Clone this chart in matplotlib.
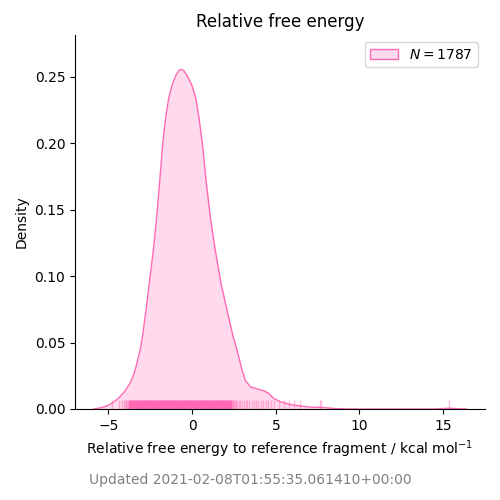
import numpy as np
import matplotlib
matplotlib.use('Agg')
import matplotlib.pyplot as plt
from matplotlib.patches import Patch

### Density curve (kcal/mol, density)
kde_x = [-5.9, -5.5, -5.1, -4.81, -4.55, -4.31, -4.0, -3.71, -3.52, -3.35, -3.11,
         -2.95, -2.81, -2.68, -2.56, -2.44, -2.32, -2.17, -2.04, -1.94, -1.86, -1.78,
         -1.68, -1.56, -1.40, -1.20, -0.96, -0.80, -0.66, -0.50, -0.32, -0.02, 0.22,
         0.38, 0.52, 0.64, 0.74, 0.84, 0.98, 1.1, 1.38, 1.72, 1.95, 2.17, 2.42,
         2.68, 2.85, 2.98, 3.17, 3.47, 3.97, 4.27, 4.57, 4.87, 5.27, 5.87, 6.3, 6.8,
         7.2, 7.66, 8.1, 8.6, 9.2, 10.0, 14.3, 14.8, 15.35, 15.9, 16.4]
kde_y = [0.0, 0.0008, 0.0022, 0.0043, 0.0065, 0.0093, 0.0138, 0.0194, 0.025, 0.0319,
         0.0444, 0.056, 0.0695, 0.082, 0.0947, 0.107, 0.1197, 0.138, 0.156, 0.1712,
         0.1837, 0.1963, 0.2088, 0.2214, 0.234, 0.244, 0.2515, 0.2548, 0.2558, 0.2548,
         0.2515, 0.244, 0.234, 0.2214, 0.2088, 0.1963, 0.1837, 0.1712, 0.156, 0.143,
         0.1197, 0.0947, 0.082, 0.0695, 0.056, 0.0444, 0.036, 0.0294, 0.0218, 0.0168,
         0.0148, 0.0138, 0.0118, 0.008, 0.0055, 0.0033, 0.0026, 0.0018, 0.0013, 0.0013,
         0.0008, 0.0003, 0.0001, 0.0, 0.0, 0.0002, 0.0006, 0.0002, 0.0]

### Rug positions (dense core and sparser tails)
rug_core = [-3.75, -3.70, -3.65, -3.60, -3.55, -3.50,
            -3.45, -3.40, -3.35, -3.30, -3.25, -3.20, -3.15, -3.10, -3.05, -3.00,
            -2.95, -2.90, -2.85, -2.80, -2.75, -2.70, -2.65, -2.60, -2.55, -2.50,
            -2.45, -2.40, -2.35, -2.30, -2.25, -2.20, -2.15, -2.10, -2.05, -2.00,
            -1.95, -1.90, -1.85, -1.80, -1.75, -1.70, -1.65, -1.60, -1.55, -1.50,
            -1.45, -1.40, -1.35, -1.30, -1.25, -1.20, -1.15, -1.10, -1.05, -1.00,
            -0.95, -0.90, -0.85, -0.80, -0.75, -0.70, -0.65, -0.60, -0.55, -0.50,
            -0.45, -0.40, -0.35, -0.30, -0.25, -0.20, -0.15, -0.10, -0.05, 0.00,
            0.05, 0.10, 0.15, 0.20, 0.25, 0.30, 0.35, 0.40, 0.45, 0.50,
            0.55, 0.60, 0.65, 0.70, 0.75, 0.80, 0.85, 0.90, 0.95, 1.00,
            1.05, 1.10, 1.15, 1.20, 1.25, 1.30, 1.35, 1.40, 1.45, 1.50,
            1.55, 1.60, 1.65, 1.70, 1.75, 1.80, 1.85, 1.90, 1.95, 2.00,
            2.05, 2.10, 2.15, 2.20, 2.25, 2.30]
rug_tail = [-4.77, -4.35, -4.2, -4.1, -4.02, -3.95, -3.88, -3.82, 2.36, 2.42, 2.47,
            2.52, 2.58, 2.63, 2.7, 2.78, 2.85, 2.97, 3.08, 3.2, 3.3, 3.42, 3.55, 3.68,
            3.8, 3.95, 4.1, 4.25, 4.4, 4.55, 4.7, 4.87, 5.17, 5.47, 5.77, 6.07, 6.43,
            7.62, 7.72, 15.35]

n_samples = 1787
updated = 'Updated 2021-02-08T01:55:35.061410+00:00'
color = 'hotpink'

fig = plt.figure(figsize=(5, 5), dpi=100)
ax = fig.add_axes([0.15, 0.182, 0.82, 0.748])

ax.fill_between(kde_x, kde_y, 0, color=color, alpha=0.25, linewidth=0)
ax.plot(kde_x, kde_y, color=color, linewidth=1)

trans = ax.get_xaxis_transform()
ax.vlines(rug_core, 0, 0.025, transform=trans, color=color, alpha=1.0, linewidth=1)
ax.vlines(rug_tail, 0, 0.025, transform=trans, color=color, alpha=0.45, linewidth=1)

ax.set_xlim(-7.0, 17.5)
ax.set_ylim(0, 0.2816)
ax.set_xticks([-5, 0, 5, 10, 15])
ax.set_yticks([0.0, 0.05, 0.10, 0.15, 0.20, 0.25])
ax.set_xlabel('Relative free energy to reference fragment / kcal mol$^{-1}$')
ax.set_ylabel('Density')
ax.set_title('Relative free energy')
ax.spines['top'].set_visible(False)
ax.spines['right'].set_visible(False)

handle = Patch(facecolor=matplotlib.colors.to_rgba(color, 0.25), edgecolor=color)
ax.legend([handle], [f'$N = {n_samples}$'], loc='upper right')

fig.text(0.5, 0.04, updated, ha='center', va='center', fontsize=10, color='grey')

fig.savefig('out.png', dpi=100)
